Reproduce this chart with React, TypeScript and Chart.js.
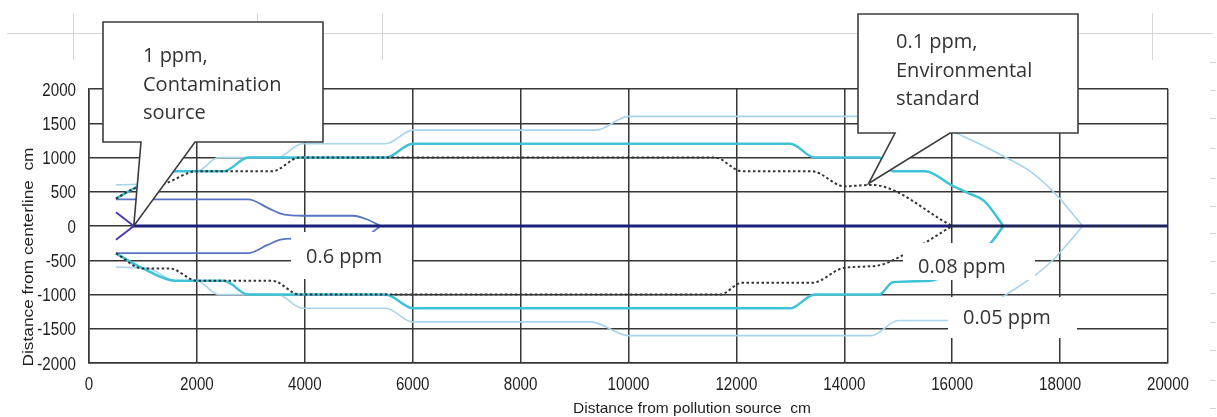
import React, { useEffect, useRef } from 'react';
import { Chart, registerables } from 'chart.js';

Chart.register(...registerables);

// ---------- data ----------
const X_TICKS = [0, 2000, 4000, 6000, 8000, 10000, 12000, 14000, 16000, 18000, 20000];
const Y_TICKS = [-2000, -1500, -1000, -500, 0, 500, 1000, 1500, 2000];
const X_TITLE = 'Distance from pollution source  cm';
const Y_TITLE = 'Distance from centerline  cm';

type P = [number, number];

const PPM1_UPPER: P[] = [[500, 200], [830, 0]];
const PPM1_LOWER: P[] = [[500, -200], [830, 0]];
const CENTERLINE: P[] = [[830, 0], [20000, 0]];

const PPM06_UPPER: P[] = [[500, 390], [2950, 390], [3350, 250], [3600, 170], [3950, 150], [4900, 150], [5200, 80], [5400, 0]];
const PPM06_LOWER: P[] = [[500, -395], [2950, -395], [3300, -280], [3550, -200], [3750, -185], [5000, -190], [5200, -120], [5400, 0]];

const PPM01_UPPER: P[] = [[500, 400], [850, 550], [1400, 620], [2000, 800], [3400, 800], [3900, 1000], [11600, 1000], [12100, 800], [13400, 800], [14000, 580], [14500, 600], [16000, 0]];
const PPM01_LOWER: P[] = [[500, -400], [1000, -620], [1500, -620], [2000, -800], [3400, -800], [3900, -1000], [11700, -1000], [12100, -830], [13400, -830], [14000, -610], [14600, -580], [15150, -400], [16000, 0]];
const PPM01_CENTER: P[] = [[16000, 0], [20000, 0]];

const PPM008_UPPER: P[] = [[500, 400], [1000, 620], [1600, 800], [2500, 800], [2950, 1000], [5500, 1000], [6000, 1200], [13000, 1200], [13450, 1000], [14650, 1000], [14900, 800], [15500, 800], [16000, 590], [16300, 480], [16600, 360], [16950, 0]];
const PPM008_LOWER: P[] = [[500, -400], [1000, -620], [1600, -800], [2500, -800], [2950, -1000], [5500, -1000], [6000, -1200], [13000, -1200], [13450, -1000], [14650, -1000], [14900, -820], [15600, -800], [16000, -650], [16400, -450], [16700, -260], [16950, 0]];

const PPM005_UPPER: P[] = [[500, 600], [1100, 620], [1600, 800], [2000, 800], [2400, 1000], [3500, 1000], [3950, 1200], [5500, 1200], [6000, 1400], [9400, 1400], [10000, 1600], [14600, 1600], [15000, 1400], [15900, 1400], [16200, 1310], [17020, 990], [17440, 800], [17900, 480], [18420, 0]];
const PPM005_LOWER: P[] = [[500, -600], [1100, -620], [1600, -800], [2000, -800], [2400, -1000], [3500, -1000], [3950, -1200], [5500, -1200], [6000, -1400], [9300, -1400], [10000, -1600], [14500, -1600], [15000, -1380], [16000, -1380], [16600, -1200], [17020, -990], [17570, -700], [17900, -470], [18420, 0]];

const CALLOUT_TEXTS = [
  ['1 ppm,', 'Contamination', 'source'],
  ['0.1 ppm,', 'Environmental', 'standard'],
];
const CALLOUT_TIPS: P[] = [[830, 0], [14450, 620]];
const LABEL_TEXTS = ['0.6 ppm', '0.08 ppm', '0.05 ppm'];

// ---------- layout / style (pixels) ----------
const CALLOUT_LAYOUT = [
  { box: [103, 22, 323, 142], tail: [141, 195], textX: 143, baseline: 62 },
  { box: [858, 14, 1078, 133], tail: [895, 950], textX: 896, baseline: 48 },
];
const LABEL_LAYOUT = [
  { rect: [291, 232, 412, 279], textX: 306, baseline: 263 },
  { rect: [903, 243, 1035, 280], textX: 918, baseline: 273 },
  { rect: [948, 297, 1077, 338], textX: 963, baseline: 324 },
];

const GRID = '#363636';
const AXIS_FONT = "'Liberation Sans', Arial, sans-serif";
const NOTE_FONT = "'Open Sans', 'Noto Sans', sans-serif";
const AXIS_SQUEEZE = 0.84;

const toPts = (a: P[]) => a.map(([x, y]) => ({ x, y }));

function line(data: P[], color: string, width: number, dash: number[] = []) {
  return {
    data: toPts(data),
    borderColor: color,
    backgroundColor: color,
    borderWidth: width,
    borderDash: dash,
    showLine: true,
    pointRadius: 0,
    cubicInterpolationMode: 'monotone' as const,
    fill: false,
  };
}

function squeezedText(ctx: CanvasRenderingContext2D, text: string, x: number, y: number, align: 'left' | 'right' | 'center', sx: number, rot = 0) {
  const w = ctx.measureText(text).width * sx;
  ctx.save();
  ctx.translate(x, y);
  ctx.rotate(rot);
  const off = align === 'left' ? 0 : align === 'right' ? -w : -w / 2;
  ctx.translate(off, 0);
  ctx.scale(sx, 1);
  ctx.textAlign = 'left';
  ctx.fillText(text, 0, 0);
  ctx.restore();
}

const overlay = {
  id: 'overlay',
  beforeDraw(chart: any) {
    const ctx = chart.ctx as CanvasRenderingContext2D;
    ctx.save();
    ctx.fillStyle = '#fff';
    ctx.fillRect(0, 0, chart.width, chart.height);
    // faint spreadsheet cell lines behind the chart
    ctx.strokeStyle = '#d6d6d6';
    ctx.lineWidth = 1;
    ctx.beginPath();
    ctx.moveTo(7, 33.5); ctx.lineTo(1213, 33.5);
    [73.5, 257.5, 382.5, 1152.5].forEach((x) => { ctx.moveTo(x, 13); ctx.lineTo(x, 60); });
    [62, 90, 118, 148, 178, 206, 233, 261, 293, 322, 350, 380, 408].forEach((y) => {
      ctx.moveTo(1210, y + 0.5); ctx.lineTo(1216, y + 0.5);
    });
    ctx.stroke();
    ctx.restore();
  },
  afterDraw(chart: any) {
    const ctx = chart.ctx as CanvasRenderingContext2D;
    const xs = chart.scales.x;
    const ys = chart.scales.y;
    ctx.save();
    // tick labels, positioned by the library's scales
    ctx.fillStyle = '#1e1e1e';
    ctx.font = `18px ${AXIS_FONT}`;
    ctx.textBaseline = 'alphabetic';
    xs.ticks.forEach((t: any) => {
      squeezedText(ctx, String(t.value), xs.getPixelForValue(t.value), xs.top + 27, 'center', AXIS_SQUEEZE);
    });
    ys.ticks.forEach((t: any) => {
      squeezedText(ctx, String(t.value), ys.right - 13, ys.getPixelForValue(t.value) + 6.5, 'right', AXIS_SQUEEZE);
    });
    // axis titles
    ctx.font = `15px ${AXIS_FONT}`;
    const fit = (text: string, cx: number, cy: number, width: number, rot: number) => {
      const w = ctx.measureText(text).width;
      squeezedText(ctx, text, cx, cy, 'center', width / w, rot);
    };
    fit(X_TITLE, 692, 413, 238, 0);
    fit(Y_TITLE, 33, 257, 219, -Math.PI / 2);

    // label boxes
    ctx.font = `20px ${NOTE_FONT}`;
    LABEL_TEXTS.forEach((t, i) => {
      const L = LABEL_LAYOUT[i];
      const [x0, y0, x1, y1] = L.rect;
      ctx.fillStyle = '#fff';
      ctx.fillRect(x0, y0, x1 - x0, y1 - y0);
      ctx.fillStyle = '#333';
      ctx.textAlign = 'left';
      ctx.fillText(t, L.textX, L.baseline);
    });
    // callouts
    CALLOUT_TEXTS.forEach((lines, i) => {
      const L = CALLOUT_LAYOUT[i];
      const [x0, y0, x1, y1] = L.box;
      const tx = xs.getPixelForValue(CALLOUT_TIPS[i][0]);
      const ty = ys.getPixelForValue(CALLOUT_TIPS[i][1]);
      ctx.beginPath();
      ctx.moveTo(x0, y0);
      ctx.lineTo(x1, y0);
      ctx.lineTo(x1, y1);
      ctx.lineTo(L.tail[1], y1);
      ctx.lineTo(tx, ty);
      ctx.lineTo(L.tail[0], y1);
      ctx.lineTo(x0, y1);
      ctx.closePath();
      ctx.fillStyle = '#fff';
      ctx.fill();
      ctx.strokeStyle = '#3c3c3c';
      ctx.lineWidth = 1.6;
      ctx.lineJoin = 'miter';
      ctx.stroke();
      ctx.fillStyle = '#333';
      ctx.font = `20px ${NOTE_FONT}`;
      ctx.textAlign = 'left';
      lines.forEach((s, k) => ctx.fillText(s, L.textX, L.baseline + k * 28.5));
    });
    ctx.restore();
  },
};

export default function App() {
  const ref = useRef<HTMLCanvasElement>(null);
  useEffect(() => {
    const canvas = ref.current!;
    const chart = new Chart(canvas, {
      type: 'scatter',
      data: {
        datasets: [
          line(PPM01_UPPER, '#333333', 2, [2.5, 2.5]),
          line(PPM01_LOWER, '#333333', 2, [2.5, 2.5]),
          line(PPM01_CENTER, '#2a2a2a', 2, [2.5, 2.5]),
          line(CENTERLINE, '#1a2278', 3),
          line(PPM1_UPPER, '#4a3cb4', 2),
          line(PPM1_LOWER, '#4a3cb4', 2),
          line(PPM06_UPPER, '#5a74c4', 1.8),
          line(PPM06_LOWER, '#5a74c4', 1.8),
          line(PPM008_UPPER, '#3ec2d8', 2.5),
          line(PPM008_LOWER, '#3ec2d8', 2.5),
          line(PPM005_UPPER, '#a6d5ec', 1.6),
          line(PPM005_LOWER, '#a6d5ec', 1.6),
        ] as any,
      },
      options: {
        animation: false,
        responsive: false,
        layout: { padding: { top: 89, right: 49, left: 0, bottom: 0 } },
        plugins: { legend: { display: false }, tooltip: { enabled: false } },
        scales: {
          x: {
            type: 'linear',
            min: 0,
            max: 20000,
            afterBuildTicks: (s: any) => { s.ticks = X_TICKS.map((v) => ({ value: v })); },
            afterFit: (s: any) => { s.height = 54; },
            ticks: { display: false },
            grid: { color: GRID, lineWidth: 1.5, drawTicks: false },
            border: { color: GRID, width: 1.5 },
          },
          y: {
            type: 'linear',
            min: -2000,
            max: 2000,
            afterBuildTicks: (s: any) => { s.ticks = Y_TICKS.map((v) => ({ value: v })); },
            afterFit: (s: any) => { s.width = 89; },
            ticks: { display: false },
            grid: { color: GRID, lineWidth: 1.5, drawTicks: false },
            border: { color: GRID, width: 1.5 },
          },
        },
      } as any,
      plugins: [overlay],
    });
    return () => chart.destroy();
  }, []);
  return (
    <div style={{ position: 'fixed', left: 0, top: 0, width: 1217, height: 417, background: '#fff' }}>
      <canvas ref={ref} width={1217} height={417} style={{ width: 1217, height: 417, display: 'block' }} />
    </div>
  );
}
